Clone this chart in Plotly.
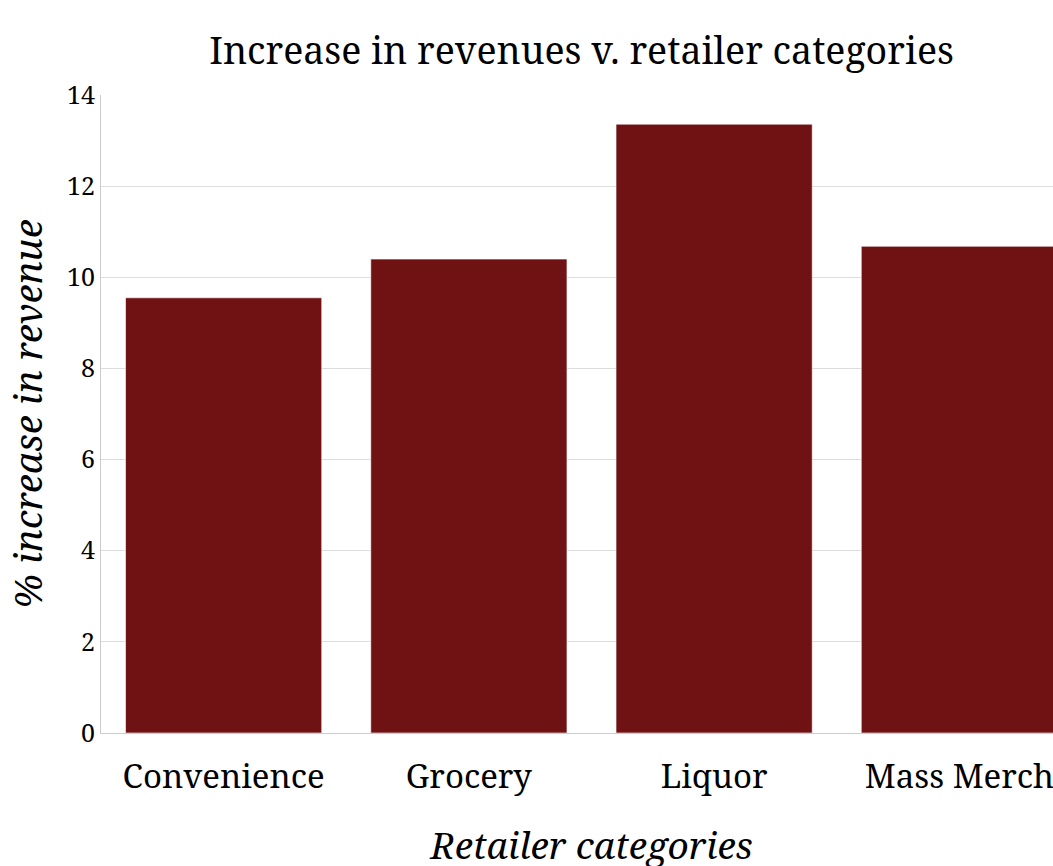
import plotly.graph_objects as go

categories = ["Convenience", "Grocery", "Liquor", "Mass Merch"]
increase_pct = [9.55, 10.40, 13.36, 10.68]
y_ticks = [0, 2, 4, 6, 8, 10, 12, 14]

FONT = "Noto Serif, DejaVu Serif, serif"

fig = go.Figure(
    go.Bar(
        x=categories,
        y=increase_pct,
        marker=dict(color="#701214", line=dict(color="#ffffff", width=0.6)),
    )
)

fig.update_layout(
    width=1163,
    height=900,
    margin=dict(l=101, r=81, t=95, b=167),
    paper_bgcolor="white",
    plot_bgcolor="white",
    bargap=0.2,
    font=dict(family=FONT, color="black"),
    title=dict(
        text="Increase in revenues v. retailer categories",
        font=dict(family=FONT, size=37.5, color="black"),
        x=0.5,
        xanchor="center",
        y=0.943,
        yanchor="middle",
    ),
    showlegend=False,
)

fig.update_xaxes(
    title=dict(text="<i>Retailer categories</i>", font=dict(family=FONT, size=37), standoff=36),
    tickfont=dict(family=FONT, size=33),
    ticklabelstandoff=14,
    showline=True,
    linecolor="#cccccc",
    linewidth=1,
    showgrid=False,
    ticks="",
)

fig.update_yaxes(
    title=dict(text="<i>% increase in revenue</i>", font=dict(family=FONT, size=38.5), standoff=12),
    tickfont=dict(family=FONT, size=25),
    range=[0, 14],
    tickvals=y_ticks,
    showline=True,
    linecolor="#cccccc",
    linewidth=1,
    showgrid=True,
    gridcolor="#dddddd",
    gridwidth=1,
    zeroline=False,
    ticks="",
)

fig.write_html("out.html")
